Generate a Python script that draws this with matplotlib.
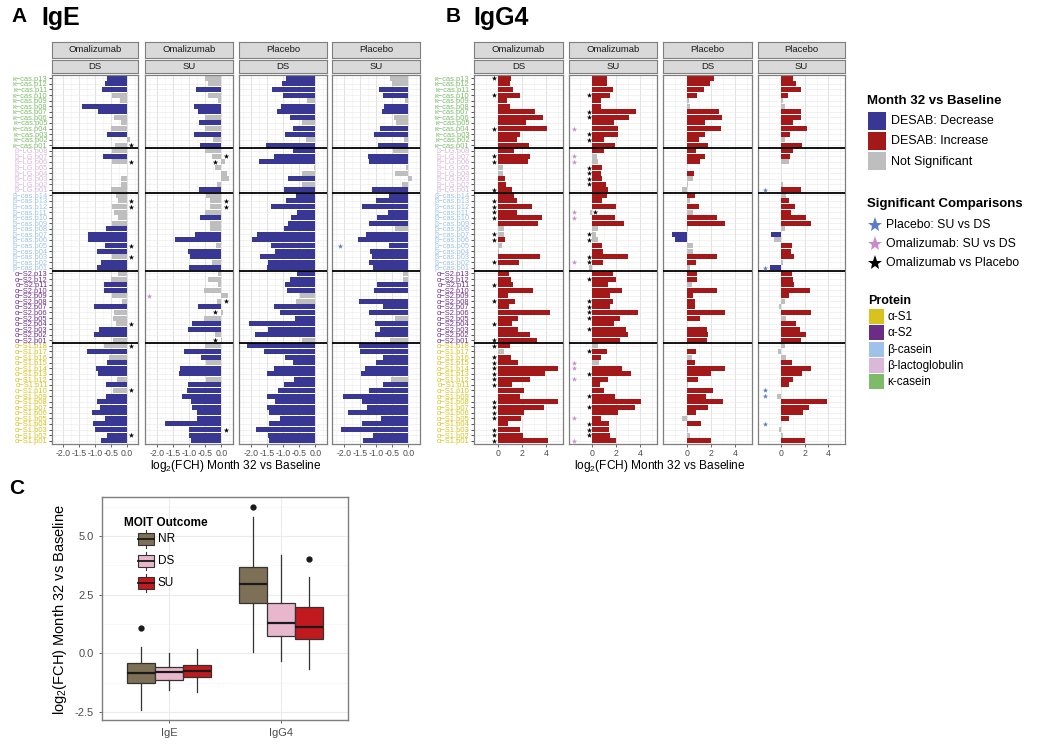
import numpy as np
import matplotlib
matplotlib.use("Agg")
import matplotlib.pyplot as plt
from matplotlib.patches import Rectangle

plt.rcParams['font.family'] = ['Liberation Sans', 'DejaVu Sans']
plt.rcParams['mathtext.fontset'] = 'custom'
plt.rcParams['mathtext.rm'] = 'Liberation Sans'

# ---------------- data ----------------
groups = ["κ−cas", "β−LG", "β−cas", "α−S2", "α−S1"]
group_sizes = [13, 8, 14, 13, 18]
group_colors = ["#7DBB6A", "#D9B8DA", "#9EC2EA", "#6B2C86", "#D8C21E"]

strip_top = ["Omalizumab", "Omalizumab", "Placebo", "Placebo"]
strip_bottom = ["DS", "SU", "DS", "SU"]

# IgE  (rows top -> bottom: κ-cas p13..p01, β-LG p08..p01, β-cas p14..p01, α-S2 p13..p01, α-S1 p18..p01)
ige_oma_ds = [-0.61, -0.68, -0.79, -0.47, -0.20, -1.42, -0.92, -0.39, -0.18, -0.49, -0.61, 0.10, -0.37,
              -0.45, -0.76, -0.47, 0.00, 0.00, -0.18, -0.18, -0.50,
              -0.35, -0.26, -0.45, -0.40, -0.26, -0.47, -0.65, -1.21, -1.23, -0.68, -0.95, -0.47, -0.82, -0.95,
              -0.26, -0.50, -0.72, -0.72, -0.47, -0.14, -1.02, -0.40, -0.42, -0.34, -0.87, -1.03, -0.42,
              -0.70, -1.26, -0.55, -0.61, -0.98, -0.89, -0.32, -0.65, -0.42, -0.65, -0.95, -0.84, -1.10, -0.68, -1.07, -1.00, -0.61, -0.82]
ige_oma_ds_sig = "SSSnnSSnnnSnn nSnnnnnn nnnnnnSSSSSnSS nnSSnnSnnnSSn nSnSSSnSnSSSSSSSSS"
ige_oma_su = [-0.50, -0.42, -0.79, -0.42, -0.10, -0.86, -0.72, -0.50, -0.70, -0.50, -0.84, -0.26, -0.65,
              -0.50, -0.30, 0.10, -0.20, 0.18, 0.25, -0.15, -0.68,
              -0.47, -0.35, -0.35, -0.50, -0.65, -0.35, -0.35, -0.82, -1.42, -0.16, -1.02, -0.97, -0.28, -1.00,
              -0.10, -0.40, -0.10, -0.55, 0.20, -0.15, -0.72, 0.05, -0.55, -0.92, -1.02, -0.20, 0.03,
              -0.50, -1.15, -0.62, -0.47, -1.28, -1.30, -0.47, -1.03, -1.07, -1.23, -0.93, -0.92, -0.75, -0.75, -1.75, -1.00, -1.00, -0.95]
ige_oma_su_sig = "nnSnnSSnSnSnS nnnnnnnS nnnnSnnSSnSSnS nnnnnnSnnSSnn nSSnSSnSSSSSSSSSSS"
ige_pla_ds = [-0.90, -1.03, -1.33, -1.01, -0.26, -1.06, -1.19, -0.79, -0.40, -0.69, -0.95, -0.29, -1.54,
              -0.69, -1.29, -1.74, -0.05, -0.40, -0.84, -0.40, -0.96,
              -0.59, -0.90, -1.38, -0.56, -0.75, -0.84, -0.96, -1.80, -1.96, -1.37, -1.26, -1.70, -1.47, -1.50,
              -0.58, -0.79, -0.93, -0.89, -0.48, -0.61, -1.27, -1.10, -0.63, -2.05, -1.47, -1.87, -0.42,
              -2.10, -1.59, -0.93, -0.69, -1.29, -1.50, -0.66, -0.98, -1.17, -1.50, -1.24, -1.48, -1.43, -1.10, -1.42, -1.85, -1.45, -1.42]
ige_pla_ds_sig = "SSSSnSSSnSSnS SSSnnSnS SSSSSSSSSSSSSS SSSSnnSSSSSSn SSSSSSSSSSSSSSSSSS"
ige_pla_su = [-0.56, -0.50, -0.92, -0.77, -0.10, -0.76, -0.81, -0.44, -0.39, -0.87, -1.05, -0.13, -0.93,
              -0.49, -1.26, -1.23, -0.07, -0.40, 0.10, -0.21, -1.13,
              -0.61, -1.00, -1.42, -0.63, -0.98, -1.21, -0.42, -1.32, -1.56, -0.60, -1.19, -1.13, -1.21, -1.08,
              -0.18, -0.16, -0.98, -1.07, -0.02, -1.53, -0.79, -1.23, -0.42, -1.02, -0.87, -1.02, -0.56,
              -1.53, -1.50, -0.77, -1.00, -1.34, -1.47, -0.53, -0.77, -1.21, -2.03, -1.44, -1.28, -1.86, -0.84, -1.44, -2.08, -1.10, -1.39]
ige_pla_su_sig = "nnSSnSSnnSSnS nSSnnnnS SSSSSSnSSSSSSS nnSSnSSSnSSSn SSSSSSnSSSSSSSSSSS"

# IgG4
igg4_oma_ds = [1.10, 1.05, 1.24, 1.85, 0.74, 1.02, 3.12, 3.78, 2.34, 4.08, 1.85, 1.57, 2.57,
               1.38, 2.68, 2.48, 0.47, 0.41, 0.63, 0.72, 1.16,
               1.38, 1.60, 2.84, 1.57, 3.67, 3.37, 0.50, 0.50, 0.63, 0.39, 0.11, 3.48, 1.79, 0.19,
               0.97, 1.08, 1.30, 2.92, 0.88, 1.43, 0.97, 4.36, 1.66, 1.19, 1.66, 2.68, 3.26,
               1.05, 0.50, 1.10, 1.65, 5.00, 3.95, 2.65, 1.20, 2.15, 1.85, 5.00, 3.85, 2.20, 1.90, 0.88, 1.85, 2.10, 4.20]
igg4_oma_ds_sig = "SSSSSSSSSSSSS SSSnnSSS SSSSSSnnSnnSSn SSSSSSSSSSSSS SnSSSSSSSSSSSSSSSS"
igg4_oma_su = [1.22, 1.22, 1.69, 1.50, 0.72, 0.72, 3.64, 3.06, 1.78, 2.17, 2.17, 1.00, 1.92,
               0.94, 0.39, 0.50, 0.83, 0.75, 0.83, 1.17, 1.33,
               1.22, 0.80, 2.00, -0.22, 1.89, 2.64, 0.44, 0.33, 0.44, 0.80, 0.86, 3.00, 0.89, -0.30,
               1.69, 2.00, 1.33, 2.47, 1.44, 1.72, 1.50, 3.80, 2.28, 1.78, 2.78, 2.94, 2.28,
               0.50, 1.25, 0.72, 0.55, 2.47, 3.19, 1.33, 0.60, 1.00, 1.90, 4.10, 3.55, 2.17, 0.72, 1.35, 1.35, 1.50, 1.94]
igg4_oma_su_sig = "SSSSSSSSSSSSS SnnSSSSS SSSnSSnnnSSSSn SSSSSSSSSSSSS nSSnSSSSSSSSSSSSSS"
igg4_pla_ds = [2.26, 1.90, 1.43, 0.83, 0.19, 0.25, 2.68, 2.95, 1.49, 2.87, 1.52, 1.02, 1.77,
               0.74, 1.49, 1.10, 0.00, 0.61, 0.52, 0.11, -0.36,
               0.69, 0.28, 1.02, 0.52, 2.48, 3.17, 0.11, -1.24, -0.97, 0.52, 0.52, 2.48, 0.80, 0.28,
               0.83, 0.83, 0.41, 2.54, 0.55, 0.69, 0.69, 3.17, 1.08, 0.00, 1.66, 1.77, 1.71,
               0.00, 0.74, 0.41, 0.69, 3.17, 1.99, 0.94, 0.11, 2.18, 1.63, 3.03, 1.80, 0.77, -0.36, 1.16, 0.11, 0.28, 2.00]
igg4_pla_ds_sig = "SSSSnnSSSSSSS SSSnSnnn SnSnSSnSSnnSSn SSnSSSSSSnSSS nSnSSSSnSSSSSnSnnS"
igg4_pla_su = [1.03, 1.25, 1.67, 0.56, 0.19, 0.36, 1.72, 1.67, 0.97, 2.17, 0.75, 0.33, 1.80,
               0.97, 0.75, 0.64, 0.02, 0.00, 0.03, 0.19, 1.67,
               0.42, 0.69, 1.17, 0.83, 2.08, 2.56, 0.33, -0.89, -0.56, 0.89, 0.80, 1.06, 0.14, -0.97,
               0.89, 0.97, 1.11, 2.42, 0.69, 0.36, -0.14, 2.56, 0.42, 1.25, 1.61, 2.08, 1.72,
               0.36, -0.28, 0.42, 0.92, 2.56, 1.80, 1.03, 0.64, 0.00, -0.36, 3.92, 2.36, 1.83, 0.64, 0.00, -0.14, 0.14, 2.03]
igg4_pla_su_sig = "SSSSnnSSSSSnS SSnnnnnS nSSSSSnSnSSSnS SSSSSnnSnSSSS nnnSSSSSnnSSSSnnnS"

# significance stars: row indices (0 = top row)
ige_oma_ds_black = [12, 15, 22, 23, 30, 32, 44, 48, 56, 64]
ige_oma_su_black = [14, 15, 22, 23, 40, 42, 47, 63]
ige_oma_su_pink = [39]
ige_pla_su_blue = [30]
igg4_oma_ds_black = [0, 3, 9, 14, 15, 20, 22, 23, 24, 25, 28, 29, 33, 37, 40, 44, 47, 48, 50, 51, 52,
                     53, 54, 55, 58, 59, 60, 61, 63, 64, 65]
igg4_oma_su_black = [3, 6, 7, 10, 11, 16, 17, 18, 19, 24, 28, 29, 32, 33, 36, 40, 41, 42, 43, 45, 49,
                     53, 57, 59, 62, 63, 64]
igg4_oma_su_pink = [9, 14, 15, 24, 25, 33, 51, 52, 54, 61, 65]
igg4_pla_su_blue = [20, 34, 56, 57, 62]

# Panel C boxplot summaries: rows = isotype, columns = outcome
c_isotypes = ["IgE", "IgG4"]
c_outcomes = ["NR", "DS", "SU"]
c_colors = ["#7E6F57", "#E9B7CB", "#C1191E"]
c_whislo = [[-2.40, -1.55, -1.62], [0.07, -0.31, -0.66]]
c_q1 = [[-1.27, -1.13, -1.01], [2.15, 0.74, 0.61]]
c_med = [[-0.82, -0.78, -0.75], [2.94, 1.31, 1.14]]
c_q3 = [[-0.39, -0.56, -0.49], [3.68, 2.15, 1.96]]
c_whishi = [[0.29, 0.00, 0.19], [5.81, 4.21, 3.26]]
c_fliers = [[[1.07], [], []], [[6.23], [], [4.04]]]

# ---------------- style ----------------
BLUE = "#383894"
RED = "#A31919"
GREY = "#BEBEBE"
PINK_STAR = "#C98BCB"
BLUE_STAR = "#5A7ACB"
BORDER = "#7F7F7F"
TICKC = "#4D4D4D"

W, H = 1050, 747
fig = plt.figure(figsize=(W / 100, H / 100), dpi=100)


def add_ax(x0, y0, x1, y1):
    return fig.add_axes([x0 / W, 1 - y1 / H, (x1 - x0) / W, (y1 - y0) / H])


row_labels = []
row_colors = []
for g, n, c in zip(groups, group_sizes, group_colors):
    for k in range(n, 0, -1):
        row_labels.append(f"{g}.p{k:02d}")
        row_colors.append(c)
bounds = np.cumsum(group_sizes)[:-1]


def draw_facet(x0, x1, vals, sig, xlim, xticks, xticklabels, minors, star_off,
               black=(), pink=(), blue=(), pink_x=0.0, blue_x=0.0,
               top="", bottom="", show_labels=False):
    ax = add_ax(x0, 75, x1, 444)
    sig = sig.replace(" ", "")
    vals = np.asarray(vals, dtype=float)
    n = len(vals)
    ypos = n - 1 - np.arange(n)
    cols = [(BLUE if v < 0 else RED) if s == "S" else GREY for v, s in zip(vals, sig)]
    ax.set_xlim(*xlim)
    ax.set_ylim(-0.6, n - 0.4)
    for t in xticks:
        ax.axvline(t, color="#E2E2E2", lw=0.7, zorder=0)
    for t in minors:
        ax.axvline(t, color="#F0F0F0", lw=0.4, zorder=0)
    for yy in ypos:
        ax.axhline(yy, color="#EBEBEB", lw=0.45, zorder=0)
    ax.barh(ypos, vals, height=0.9, color=cols, lw=0, zorder=2)
    for b in bounds:
        ax.axhline(n - 1 - b + 0.5, color="black", lw=1.3, zorder=3)
    if len(black):
        bx = [(-star_off if vals[i] > 0 else star_off * 0.75) for i in black]
        ax.scatter(bx, ypos[list(black)], marker="*", s=16, color="black", lw=0, zorder=4)
    if len(pink):
        ax.scatter([pink_x] * len(pink), ypos[list(pink)], marker="*", s=16, color=PINK_STAR, lw=0, zorder=4)
    if len(blue):
        ax.scatter([blue_x] * len(blue), ypos[list(blue)], marker="*", s=16, color=BLUE_STAR, lw=0, zorder=4)
    for sp in ax.spines.values():
        sp.set_color(BORDER)
        sp.set_linewidth(0.9)
    ax.set_xticks(xticks)
    ax.set_xticklabels(xticklabels, fontsize=6.3, color=TICKC)
    ax.tick_params(axis="x", length=2, width=0.6, color=TICKC, pad=1.5)
    if show_labels:
        ax.set_yticks(ypos)
        ax.set_yticklabels(row_labels, fontsize=5.4)
        for tl, c in zip(ax.get_yticklabels(), row_colors):
            tl.set_color(c)
        ax.tick_params(axis="y", length=2.2, width=0.6, color="#333333", pad=1)
    else:
        ax.set_yticks([])
    # strips
    for (ya, yb, txt) in [(42, 58, top), (60, 73, bottom)]:
        s = add_ax(x0, ya, x1, yb)
        s.set_facecolor("#D9D9D9")
        s.set_xticks([]); s.set_yticks([])
        for sp in s.spines.values():
            sp.set_color(BORDER)
            sp.set_linewidth(0.8)
        s.text(0.5, 0.5, txt, transform=s.transAxes, ha="center", va="center",
               fontsize=6.8, color="#1A1A1A")
    return ax


A_x = [(52, 138), (145, 233), (239, 327), (332, 420)]
B_x = [(474, 563), (569, 657), (663, 752), (758, 845)]

A_xlim = (-2.36, 0.36)
A_ticks = [-2.0, -1.5, -1.0, -0.5, 0.0]
A_labels = ["-2.0", "-1.5", "-1.0", "-0.5", "0.0"]
A_minor = [-2.25, -1.75, -1.25, -0.75, -0.25, 0.25]
B_xlim = (-1.95, 5.4)
B_ticks = [0, 2, 4]
B_labels = ["0", "2", "4"]
B_minor = [-1, 1, 3, 5]

ige_vals = [ige_oma_ds, ige_oma_su, ige_pla_ds, ige_pla_su]
ige_sigs = [ige_oma_ds_sig, ige_oma_su_sig, ige_pla_ds_sig, ige_pla_su_sig]
ige_black = [ige_oma_ds_black, ige_oma_su_black, [], []]
ige_pink = [[], ige_oma_su_pink, [], []]
ige_blue = [[], [], [], ige_pla_su_blue]
for k in range(4):
    draw_facet(*A_x[k], ige_vals[k], ige_sigs[k], A_xlim, A_ticks, A_labels, A_minor, 0.2,
               black=ige_black[k], pink=ige_pink[k], blue=ige_blue[k],
               pink_x=-2.25, blue_x=-2.1, top=strip_top[k], bottom=strip_bottom[k],
               show_labels=(k == 0))

igg4_vals = [igg4_oma_ds, igg4_oma_su, igg4_pla_ds, igg4_pla_su]
igg4_sigs = [igg4_oma_ds_sig, igg4_oma_su_sig, igg4_pla_ds_sig, igg4_pla_su_sig]
igg4_black = [igg4_oma_ds_black, igg4_oma_su_black, [], []]
igg4_pink = [[], igg4_oma_su_pink, [], []]
igg4_blue = [[], [], [], igg4_pla_su_blue]
for k in range(4):
    draw_facet(*B_x[k], igg4_vals[k], igg4_sigs[k], B_xlim, B_ticks, B_labels, B_minor, 0.3,
               black=igg4_black[k], pink=igg4_pink[k], blue=igg4_blue[k],
               pink_x=-1.55, blue_x=-1.39, top=strip_top[k], bottom=strip_bottom[k],
               show_labels=(k == 0))

xlab = r"log$_\mathregular{2}$(FCH) Month 32 vs Baseline"
fig.text(236 / W, 1 - 466 / H, xlab, ha="center", va="center", fontsize=8.6)
fig.text(660 / W, 1 - 466 / H, xlab, ha="center", va="center", fontsize=8.6)

# panel titles
fig.text(11 / W, 1 - 17 / H, "A", fontsize=15, fontweight="bold", va="center")
fig.text(41 / W, 1 - 18 / H, "IgE", fontsize=18, fontweight="bold", va="center")
fig.text(446 / W, 1 - 17 / H, "B", fontsize=15, fontweight="bold", va="center")
fig.text(473 / W, 1 - 18 / H, "IgG4", fontsize=18, fontweight="bold", va="center")
fig.text(9 / W, 1 - 488 / H, "C", fontsize=15, fontweight="bold", va="center")

# ---------------- right legend ----------------
leg = add_ax(850, 80, 1050, 420)
leg.set_xlim(850, 1050)
leg.set_ylim(420, 80)
leg.axis("off")
leg.text(867, 101, "Month 32 vs Baseline", fontsize=9.5, fontweight="bold", va="center")
for yy, c, t in [(112, BLUE, "DESAB: Decrease"), (132, RED, "DESAB: Increase"), (152, GREY, "Not Significant")]:
    leg.add_patch(Rectangle((868, yy), 18, 18, facecolor=c, edgecolor="none"))
    leg.text(891, yy + 9.5, t, fontsize=9, va="center")
leg.text(867, 204, "Significant Comparisons", fontsize=9.5, fontweight="bold", va="center")
for yy, c, t in [(225, BLUE_STAR, "Placebo: SU vs DS"), (244, PINK_STAR, "Omalizumab: SU vs DS"),
                 (263, "black", "Omalizumab vs Placebo")]:
    leg.plot([875], [yy], marker="*", ms=11, color=c, mew=0, ls="none")
    leg.text(886, yy, t, fontsize=8.8, va="center")
leg.text(868, 301, "Protein", fontsize=9, fontweight="bold", va="center")
prot_names = ["α-S1", "α-S2", "β-casein", "β-lactoglobulin", "κ-casein"]
prot_cols = [group_colors[4], group_colors[3], group_colors[2], group_colors[1], group_colors[0]]
for i, (t, c) in enumerate(zip(prot_names, prot_cols)):
    yy = 309 + i * 16.3
    leg.add_patch(Rectangle((869, yy), 15, 15, facecolor=c, edgecolor="none"))
    leg.text(887, yy + 8, t, fontsize=8.5, va="center")

# ---------------- panel C ----------------
axc = add_ax(102, 497, 348, 720)
axc.set_xlim(0.4, 2.6)
axc.set_ylim(-2.83, 6.66)
for t in [-2.5, 0, 2.5, 5.0]:
    axc.axhline(t, color="#EBEBEB", lw=0.8, zorder=0)
for t in [-1.25, 1.25, 3.75, 6.25]:
    axc.axhline(t, color="#F4F4F4", lw=0.5, zorder=0)
for t in [1, 2]:
    axc.axvline(t, color="#EBEBEB", lw=0.8, zorder=0)

stats = []
positions = []
for i in range(2):
    for j in range(3):
        stats.append(dict(med=c_med[i][j], q1=c_q1[i][j], q3=c_q3[i][j],
                          whislo=c_whislo[i][j], whishi=c_whishi[i][j], fliers=c_fliers[i][j]))
        positions.append(i + 1 + (j - 1) * 0.25)
bp = axc.bxp(stats, positions=positions, widths=0.245, patch_artist=True, showcaps=False,
             boxprops=dict(edgecolor="#333333", lw=0.9),
             medianprops=dict(color="#1A1A1A", lw=1.6),
             whiskerprops=dict(color="#333333", lw=0.9),
             flierprops=dict(marker="o", markerfacecolor="#1A1A1A", markeredgecolor="#1A1A1A", markersize=3.5),
             manage_ticks=False, zorder=3)
for k, patch in enumerate(bp["boxes"]):
    patch.set_facecolor(c_colors[k % 3])
for sp in axc.spines.values():
    sp.set_color(BORDER)
    sp.set_linewidth(1.0)
axc.set_xticks([1, 2])
axc.set_xticklabels(c_isotypes, fontsize=8, color=TICKC)
axc.set_yticks([-2.5, 0, 2.5, 5.0])
axc.set_yticklabels(["-2.5", "0.0", "2.5", "5.0"], fontsize=8, color=TICKC)
axc.tick_params(length=2.5, width=0.6, color=TICKC)
fig.text(60 / W, 1 - 610 / H, xlab, rotation=90, ha="center", va="center", fontsize=10.5)

# panel C legend
lc = add_ax(115, 510, 200, 595)
lc.set_xlim(115, 200)
lc.set_ylim(595, 510)
lc.axis("off")
lc.text(124, 523, "MOIT Outcome", fontsize=8.5, fontweight="bold", va="center")
for yy, c, t in [(539, c_colors[0], "NR"), (560.5, c_colors[1], "DS"), (582.5, c_colors[2], "SU")]:
    lc.plot([146, 146], [yy - 9, yy + 9], color="#333333", lw=0.8)
    lc.add_patch(Rectangle((138.3, yy - 6), 16, 12, facecolor=c, edgecolor="#333333", lw=0.8, zorder=3))
    lc.plot([138.3, 154.3], [yy, yy], color="#1A1A1A", lw=1.3, zorder=4)
    lc.text(158, yy, t, fontsize=8.5, va="center")

fig.savefig("out.png", dpi=100)
